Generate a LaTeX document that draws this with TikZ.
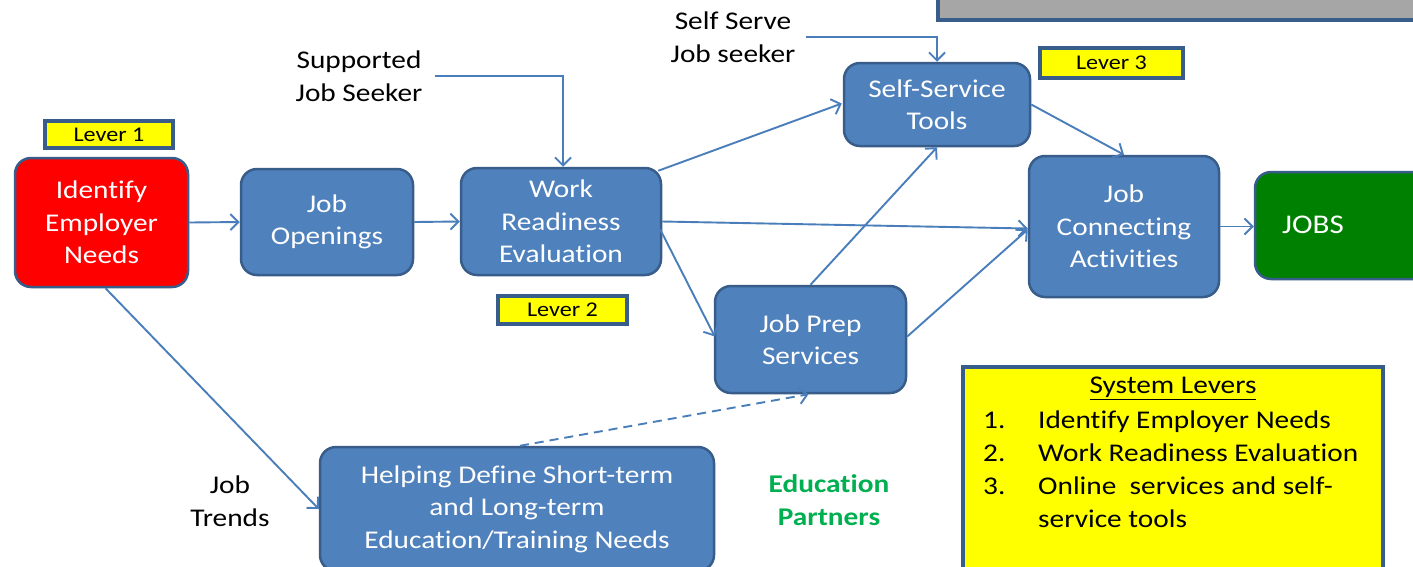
\documentclass[tikz,border=0pt]{standalone}
\usepackage{fontspec}
\setmainfont{Carlito}[FakeStretch=1.15, RawFeature={-liga;-clig;-calt;-dlig}]
\usetikzlibrary{arrows.meta,calc}
\definecolor{boxblue}{HTML}{4F81BD}
\definecolor{edgeblue}{HTML}{385D8A}
\definecolor{linkblue}{HTML}{4A7EBB}
\definecolor{levyellow}{HTML}{FFFF00}
\definecolor{jobgreen}{HTML}{008000}
\definecolor{edugreen}{HTML}{00B050}
\definecolor{bargray}{HTML}{A6A6A6}
\tikzset{
  stage/.style={draw=edgeblue, line width=2.5pt, fill=boxblue, rounded corners=16pt,
    text=white, align=center, inner sep=0pt, font=\fontsize{25.5}{32.5}\selectfont},
  leverbox/.style={draw=edgeblue, line width=3.5pt, fill=levyellow, inner sep=0pt,
    font=\fontsize{21}{24}\selectfont},
  plain/.style={align=center, inner sep=0pt, font=\fontsize{25.5}{33}\selectfont},
  link/.style={draw=linkblue, line width=1.9pt, -{Straight Barb[length=8pt,width=16pt]}},
}
\begin{document}
\begin{tikzpicture}[x=1pt,y=-1pt]
\clip (0,0) rectangle (1413,566);
\fill[white] (0,0) rectangle (1413,566);

% banner across the top
\node[draw=edgeblue, line width=4pt, fill=bargray, minimum width=520pt, minimum height=70pt, inner sep=0pt] (banner) at (1198,-15) {};

% stages of the pipeline
\node[stage, fill=red, minimum width=173pt, minimum height=129pt] (emp) at (101.5,222.5) {Identify\\Employer\\Needs};
\node[stage, minimum width=172pt, minimum height=106pt] (open) at (327,222) {Job\\Openings};
\node[stage, minimum width=200pt, minimum height=107pt] (wre) at (561,221.5) {Work\\Readiness\\Evaluation};
\node[stage, minimum width=186pt, minimum height=83pt] (sst) at (937,104.5) {Self-Service\\Tools};
\node[stage, minimum width=190pt, minimum height=141pt] (jca) at (1124,226.5) {Job\\Connecting\\Activities};
\node[stage, fill=jobgreen, minimum width=190pt, minimum height=107pt] (jobs) at (1350,225.5) {};
\node[text=white, font=\fontsize{27}{30}\selectfont, inner sep=0pt] (jobstxt) at (1313,225) {JOBS};
\node[stage, minimum width=191pt, minimum height=107pt] (prep) at (810.5,339.5) {Job Prep\\Services};
\node[stage, minimum width=394pt, minimum height=124pt] (help) at (517,509) {Helping Define Short-term\\and Long-term\\Education/Training Needs};

% lever tags
\node[leverbox, minimum width=128pt, minimum height=27pt] (lev1) at (109,134.5) {Lever 1};
\node[leverbox, minimum width=129pt, minimum height=28pt] (lev2) at (562.5,310) {Lever 2};
\node[leverbox, minimum width=143pt, minimum height=30pt] (lev3) at (1111.5,63) {Lever 3};

% free labels
\node[plain] (sup) at (359,76) {Supported\\Job Seeker};
\node[plain] (self) at (733,37) {Self Serve\\Job seeker};
\node[plain] (trends) at (230,501) {Job\\Trends};
\node[plain, text=edugreen, font=\bfseries\fontsize{25.5}{33}\selectfont] (edu) at (829,500) {Education\\Partners};

% legend
\node[draw=edgeblue, line width=4pt, fill=levyellow, minimum width=420pt, minimum height=230pt, inner sep=0pt] (legend) at (1173,482) {};
\node[font=\fontsize{25.5}{33}\selectfont, inner sep=0pt] (legtitle) at (1173,388) {\underline{System Levers}};
\node[anchor=north west, inner sep=0pt, font=\fontsize{25.5}{33}\selectfont] (leglist) at (983,405)
  {\begin{tabular}{@{}p{55pt}@{}l@{}}
   1. & Identify Employer Needs\\
   2. & Work Readiness Evaluation\\
   3. & Online\ \ services and self-\\
      & service tools
   \end{tabular}};

% connectors
\draw[link] (emp.east) -- (open.west);
\draw[link] (open.east) -- (wre.west);
\draw[link] ($(wre.north east)+(-4,4)$) -- ($(sst.west)+(-1,-1)$);
\draw[link] (wre.east) -- ($(jca.west)+(0,2)$);
\draw[link] ($(wre.east)+(-2,8)$) -- ($(prep.west)+(1,-3)$);
\draw[link] (prep.north) -- (sst.south);
\draw[link] ($(prep.east)+(0,-3)$) -- ($(jca.west)+(0,3)$);
\draw[link] (sst.east) -- (jca.north);
\draw[link] (jca.east) -- (jca.east -| jobs.west);
\draw[link] ($(emp.south)+(4,0)$) -- (help.west);
\draw[link, dashed, dash pattern=on 9pt off 6pt] ($(help.north)+(3,0)$) -- ($(prep.south)+(-2,0)$);
\draw[link] ($(sup.east)+(12,0)$) -| ($(wre.north)+(2,0)$);
\draw[link] ($(self.east)+(10,0)$) -| (sst.north);
\end{tikzpicture}
\end{document}
